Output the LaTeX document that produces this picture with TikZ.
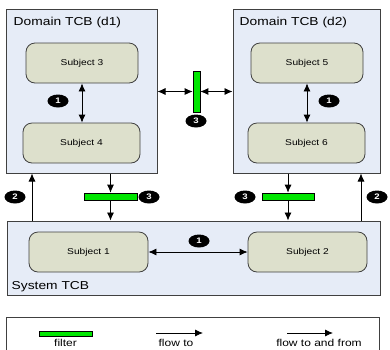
\documentclass[tikz,border=0pt]{standalone}
\usepackage{fontspec}
\setmainfont[FakeStretch=1.2]{Liberation Sans}
\usetikzlibrary{shapes}
\usetikzlibrary{arrows.meta}
\usetikzlibrary{positioning}
\definecolor{domfill}{HTML}{E6ECF7}
\definecolor{subfill}{HTML}{DDE0CC}
\definecolor{filtgreen}{HTML}{00E600}
\definecolor{lined}{HTML}{404040}

\begin{document}
\begin{tikzpicture}[x=1pt, y=-1pt, ->,
            >={Latex[length=8pt,width=7pt]},
            line width=0.8pt,
            tcb/.style = {draw=lined,line width=1pt,fill=domfill,inner sep=0pt},
            subj/.style = {draw=lined,fill=subfill,rounded corners=9pt,
                minimum width=114pt,minimum height=40pt,font=\fontsize{8.5}{10}\selectfont},
            badge/.style = {ellipse,fill=black,text=white,inner sep=0pt,
                minimum width=21pt,minimum height=13pt,font=\bfseries\fontsize{8}{9}\selectfont},
            filt/.style = {draw=black,line width=0.6pt,fill=filtgreen,inner sep=0pt},
            title/.style = {anchor=west,font=\fontsize{11.5}{13}\selectfont},
            key/.style = {font=\fontsize{10}{12}\selectfont}]
            \useasboundingbox (0,0) rectangle (390,349);
            \node[tcb, minimum width=151pt, minimum height=164pt] (d1) at (81.5,91) {};
            \node[tcb, minimum width=147pt, minimum height=164pt] (d2) at (306.5,91) {};
            \node[tcb, minimum width=373pt, minimum height=74pt] (sys) at (193.5,258) {};
            \node[title] (t1) at (10,23) {Domain TCB (d1)};
            \node[title] (t2) at (236,23) {Domain TCB (d2)};
            \node[title] (t3) at (8,287) {System TCB};
            \node[subj, minimum width=112pt](s3) at (82,63) {Subject 3};
            \node[subj, minimum width=117pt](s4) at (81.5,143) {Subject 4};
            \node[subj, minimum width=112pt](s5) at (307,63) {Subject 5};
            \node[subj, minimum width=117pt](s6) at (306.5,143) {Subject 6};
            \node[subj, minimum width=119pt](s1) at (88.5,252) {Subject 1};
            \node[subj, minimum width=119pt](s2) at (307.5,252) {Subject 2};
            \node[filt, minimum width=7pt, minimum height=41pt](f3) at (196.5,91.5) {};
            \node[filt, minimum width=53pt, minimum height=7pt](f1) at (110.5,196.5) {};
            \node[filt, minimum width=52pt, minimum height=7pt](f2) at (288,196.5) {};
            \node[badge](b1) at (58,101) {1};
            \node[badge](b2) at (329,101) {1};
            \node[badge](b3) at (199,241) {1};
            \node[badge](b4) at (196,121) {3};
            \node[badge](b5) at (149,197) {3};
            \node[badge](b6) at (245,197) {3};
            \node[badge](b7) at (15,197) {2};
            \node[badge](b8) at (377,197) {2};
            \coordinate (u1) at (32,221);
            \coordinate (u2) at (361,221);
            \path[]
                (s3.south) edge[<->] (s3.south |- s4.north)
                (s5.south) edge[<->] (s5.south |- s6.north)
                (s1.east) edge[<->] (s2.west)
                (f3.west) edge[<->] (f3.west -| d1.east)
                (f3.east) edge[<->] (f3.east -| d2.west)
                (d1.south -| f1) edge (f1.north)
                (f1.south) edge (f1.south |- sys.north)
                (d2.south -| f2) edge (f2.north)
                (f2.south) edge (f2.south |- sys.north)
                (u1) edge (u1 |- d1.south)
                (u2) edge (u2 |- d2.south);
            \node[draw=lined, line width=1pt, minimum width=373pt, minimum height=38pt](legend) at (192.5,336) {};
            \node[filt, minimum width=53pt, minimum height=5pt](kf) at (65.5,333.5) {};
            \node[key](k1) at (65.5,343) {filter};
            \node[key](k2) at (176,343) {flow to};
            \node[key](k3) at (319,343) {flow to and from};
            \coordinate (a1) at (156,333);
            \coordinate (a2) at (203,333);
            \coordinate (a3) at (287,333);
            \coordinate (a4) at (333,333);
            \path[]
                (a1) edge (a2)
                (a3) edge (a4);
        \end{tikzpicture}
\end{document}
